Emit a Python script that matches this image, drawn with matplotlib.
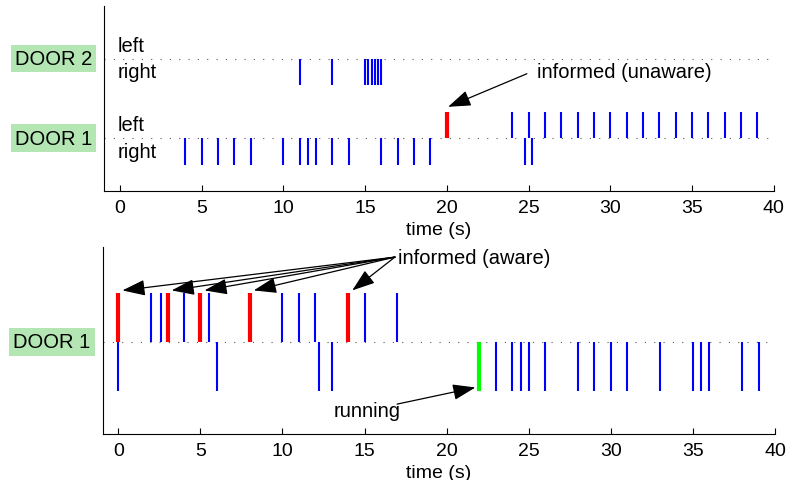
import matplotlib
matplotlib.use("Agg")
import matplotlib.pyplot as plt

plt.rcParams['font.family'] = ['Liberation Sans', 'DejaVu Sans']
plt.rcParams['font.size'] = 14.5

# top panel: two doors, left/right passes over time (s)
door2_right = [11, 13, 15, 15.2, 15.4, 15.6, 15.8, 16]
door1_right = [4, 5, 6, 7, 8, 10, 11, 11.5, 12, 13, 14, 16, 17, 18, 19, 24.8, 25.2]
door1_left = [24, 25, 26, 27, 28, 29, 30, 31, 32, 33, 34, 35, 36, 37, 38, 39]
door1_left_unaware = [20]

# bottom panel: one door, up = left, down = right
b_left = [2, 2.6, 4, 5.5, 10, 11, 12, 15, 17]
b_left_aware = [0, 3, 5, 8, 14]
b_right = [0, 6, 12.2, 13, 23, 24, 24.5, 25, 26, 28, 29, 30, 31, 33, 35, 35.5, 36, 38, 39]
b_right_running = [22]

xticks = [0, 5, 10, 15, 20, 25, 30, 35, 40]

blue = (0, 0, 1)
red = (1, 0, 0)
green = (0, 1, 0)
box_col = '#b3e6b3'
dots = (0, (1, 7.4))

fig = plt.figure(figsize=(7.86, 4.81), dpi=100)
ax1 = fig.add_axes([0.1327, 0.6008, 0.8517, 0.3853])
ax2 = fig.add_axes([0.1307, 0.0956, 0.8553, 0.3882])

arrow = dict(arrowstyle='-|>,head_length=1.0,head_width=0.35', color='k',
             lw=0.9, mutation_scale=14, shrinkA=0, shrinkB=0)


def style(ax):
    ax.spines['top'].set_visible(False)
    ax.spines['right'].set_visible(False)
    ax.set_xlim(-0.95, 40)
    ax.set_xticks(xticks)
    ax.set_yticks([])
    ax.tick_params(axis='x', direction='in', length=4, pad=6, width=0.8, labelsize=14)
    ax.set_xlabel('time (s)', labelpad=3.5, fontsize=14)


# ---- top
d1, d2 = 0, 3
ax1.axhline(d1, color='0.35', lw=0.8, ls=dots)
ax1.axhline(d2, color='0.35', lw=0.8, ls=dots)
ax1.vlines(door2_right, d2 - 1, d2, color=blue, lw=1.5)
ax1.vlines(door1_right, d1 - 1, d1, color=blue, lw=1.5)
ax1.vlines(door1_left, d1, d1 + 1, color=blue, lw=1.5)
ax1.vlines(door1_left_unaware, d1, d1 + 1, color=red, lw=3)
ax1.set_ylim(-2, 5)
style(ax1)
for d, name in [(d1, 'DOOR 1'), (d2, 'DOOR 2')]:
    ax1.text(-0.15, d + 0.5, 'left', va='center', ha='left')
    ax1.text(-0.15, d - 0.5, 'right', va='center', ha='left')
    ax1.text(-1.7, d, name, ha='right', va='center', clip_on=False,
             bbox=dict(facecolor=box_col, edgecolor='none', pad=3))
ax1.text(25.5, 2.5, 'informed (unaware)', va='center', ha='left')
ax1.annotate('', xy=(20.08, 1.18), xytext=(24.9, 2.43), arrowprops=arrow)

# ---- bottom
ax2.axhline(0, color='0.35', lw=0.8, ls=dots)
ax2.vlines(b_left, 0, 1, color=blue, lw=1.5)
ax2.vlines(b_left_aware, 0, 1, color=red, lw=3)
ax2.vlines(b_right, -1, 0, color=blue, lw=1.5)
ax2.vlines(b_right_running, -1, 0, color=green, lw=3)
ax2.set_ylim(-1.88, 1.93)
style(ax2)
ax2.text(-1.7, 0, 'DOOR 1', ha='right', va='center', clip_on=False,
         bbox=dict(facecolor=box_col, edgecolor='none', pad=3))
ax2.text(17.05, 1.73, 'informed (aware)', va='center', ha='left')
for x in b_left_aware:
    ax2.annotate('', xy=(x + 0.25, 1.05), xytext=(16.85, 1.73), arrowprops=arrow)
ax2.text(13.1, -1.39, 'running', va='center', ha='left')
ax2.annotate('', xy=(21.75, -0.93), xytext=(16.98, -1.27), arrowprops=arrow)

fig.savefig('out.png', dpi=100)
